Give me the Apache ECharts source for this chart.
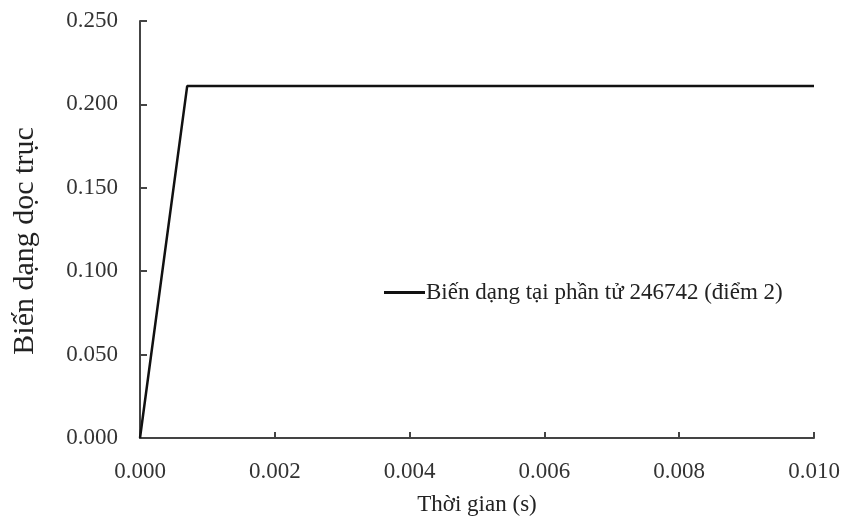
<!DOCTYPE html>
<html>
<head>
<meta charset="utf-8">
<script src="https://cdn.jsdelivr.net/npm/echarts@6/dist/echarts.min.js"></script>
<style>html,body{margin:0;padding:0;background:#fff}#c{width:848px;height:527px}</style>
</head>
<body>
<div id="c"></div>
<script>
var seriesName = "Biến dạng tại phần tử 246742 (điểm 2)";
var timeValues = [0.0, 0.0007, 0.010];
var strainValues = [0.0, 0.211, 0.211];
var xTitle = "Thời gian (s)";
var yTitle = "Biến dạng dọc trục";

var font = "'Liberation Serif', 'Times New Roman', serif";
var chart = echarts.init(document.getElementById('c'), null, {renderer: 'canvas'});
var data = timeValues.map(function (t, i) { return [t, strainValues[i]]; });
chart.setOption({
  animation: false,
  backgroundColor: '#fff',
  grid: {left: 140, right: 34, top: 21, bottom: 89, containLabel: false},
  legend: {
    left: 379, top: 276,
    itemWidth: 41, itemHeight: 3, itemGap: 0,
    icon: 'rect',
    textStyle: {fontFamily: font, fontSize: 23, color: '#222', padding: [0, 0, 0, -4]},
    data: [seriesName]
  },
  xAxis: {
    type: 'value', min: 0, max: 0.010, interval: 0.002,
    name: xTitle, nameLocation: 'middle', nameGap: 55,
    nameTextStyle: {fontFamily: font, fontSize: 23, color: '#222'},
    axisLine: {show: true, lineStyle: {color: '#444', width: 2}},
    axisTick: {show: true, inside: true, length: 6, lineStyle: {color: '#444', width: 2}},
    axisLabel: {fontFamily: font, fontSize: 23, color: '#333', margin: 22,
      formatter: function (v) { return v.toFixed(3); }},
    splitLine: {show: false}
  },
  yAxis: {
    type: 'value', min: 0, max: 0.250, interval: 0.050,
    axisLine: {show: true, lineStyle: {color: '#444', width: 2}},
    axisTick: {show: true, inside: true, length: 7, lineStyle: {color: '#444', width: 2}},
    axisLabel: {fontFamily: font, fontSize: 23, color: '#333', margin: 22,
      formatter: function (v) { return v.toFixed(3); }},
    splitLine: {show: false}
  },
  graphic: [{
    type: 'text', rotation: Math.PI / 2,
    x: 25, y: 241,
    style: {text: yTitle, fontFamily: font, fontSize: 30, fill: '#222',
      textAlign: 'center', textVerticalAlign: 'middle'}
  }],
  series: [{
    name: seriesName, type: 'line', data: data,
    showSymbol: false, symbol: 'none',
    lineStyle: {color: '#111', width: 2.5},
    itemStyle: {color: '#111'}
  }]
});
</script>
</body>
</html>
